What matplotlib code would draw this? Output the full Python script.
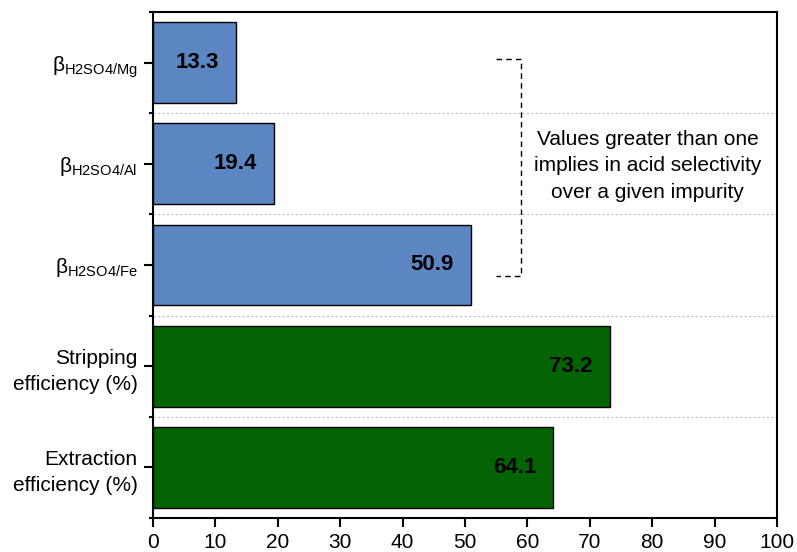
import matplotlib
matplotlib.use("Agg")
import matplotlib.pyplot as plt
import numpy as np

plt.rcParams['font.family'] = ['Liberation Sans', 'DejaVu Sans']
plt.rcParams['mathtext.fontset'] = 'custom'
plt.rcParams['mathtext.rm'] = 'Liberation Sans'

# data, top to bottom
labels = [r"β$_{\mathregular{H2SO4/Mg}}$",
          r"β$_{\mathregular{H2SO4/Al}}$",
          r"β$_{\mathregular{H2SO4/Fe}}$",
          "Stripping\nefficiency (%)",
          "Extraction\nefficiency (%)"]
values = [13.3, 19.4, 50.9, 73.2, 64.1]
colors = ['#5b86c1', '#5b86c1', '#5b86c1', '#046404', '#046404']
note = "Values greater than one\nimplies in acid selectivity\nover a given impurity"

fig = plt.figure(figsize=(7.97, 5.52), dpi=100)
ax = fig.add_axes([153/797, 1 - 518/552, 624/797, 506/552])

ypos = np.arange(len(values))
ax.barh(ypos, values, height=0.8, color=colors, edgecolor='black', linewidth=1.0, zorder=3)

for y, v in zip(ypos, values):
    ax.annotate(f"{v:.1f}", xy=(v, y), xytext=(-12.2, 0), textcoords='offset points',
                ha='right', va='center', fontsize=16, fontweight='bold', zorder=4)

ax.set_xlim(0, 100)
ax.set_ylim(len(values) - 0.5, -0.5)
ax.set_xticks(np.arange(0, 101, 10))
ax.set_yticks(ypos)
ax.set_yticklabels(labels, linespacing=1.45)
ax.set_yticks(np.arange(-0.5, len(values), 1), minor=True)
ax.tick_params(axis='both', which='major', labelsize=15, direction='out', length=6.5, width=1.5)
ax.tick_params(axis='x', which='major', pad=4.5)
ax.tick_params(axis='y', which='major', pad=4.5)
ax.tick_params(axis='y', which='minor', direction='out', length=3, width=1.5)

ax.yaxis.grid(True, which='minor', color='#bdbdbd', linestyle=(0, (2, 2)), linewidth=0.8, zorder=0)
ax.xaxis.grid(False)

for sp in ax.spines.values():
    sp.set_linewidth(1.5)
    sp.set_zorder(5)

# dashed bracket
ax.plot([55.0, 59.0, 59.0, 55.0], [-0.04, -0.04, 2.11, 2.11], color='black',
        linestyle=(0, (4, 3)), linewidth=1.0, zorder=4)
ax.text(79.3, 1.02, note, ha='center', va='center', fontsize=15, linespacing=1.5, zorder=4)

fig.savefig("out.png", dpi=100)
